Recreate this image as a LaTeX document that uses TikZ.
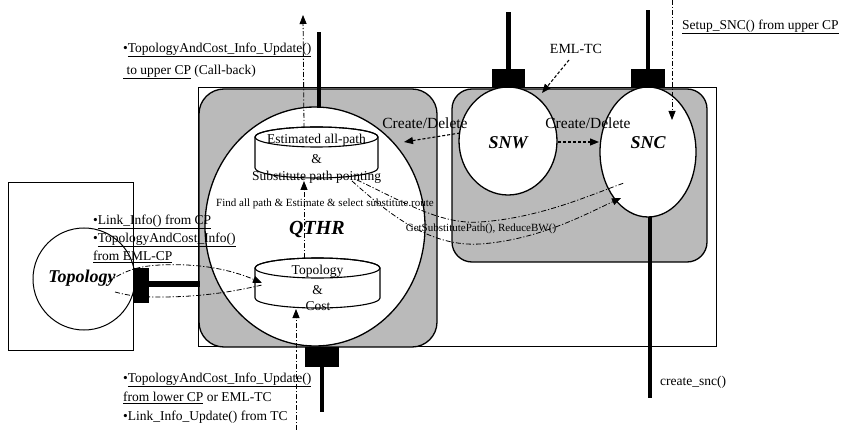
\documentclass[tikz,border=0pt]{standalone}
\usepackage{fontspec}
\setmainfont{Liberation Serif}
\usetikzlibrary{shapes.geometric,arrows.meta}
\begin{document}
\begin{tikzpicture}[x=1pt,y=-1pt,
  dd/.style={line width=0.8pt, dash pattern=on 5pt off 2pt on 1.2pt off 2pt},
  dsh/.style={line width=1.1pt, dash pattern=on 3pt off 2pt},
  tip/.style={-{Triangle[length=9pt,width=7pt]}},
  blk/.style={line width=4.5pt},
  port/.style={fill=black, draw=none, inner sep=0pt},
  bub/.style={ellipse, draw, line width=1.3pt, fill=white, inner sep=0pt},
  grayblock/.style={line width=1.3pt, fill=black!27},
  lbl/.style={inner sep=0pt, anchor=west, font=\fontsize{13.5}{15}\selectfont},
  cyl/.style={inner sep=0pt, font=\fontsize{13.5}{15}\selectfont},
  small/.style={inner sep=0pt, font=\fontsize{11}{12}\selectfont},
  big/.style={inner sep=0pt, font=\fontsize{18}{20}\selectfont\bfseries\itshape},
  cd/.style={inner sep=0pt, font=\fontsize{15.5}{17}\selectfont}]
\useasboundingbox (0,0) rectangle (842,430);

% frames
\draw[line width=1pt] (198,88) rectangle (716,346);
\draw[line width=1pt] (8,183) rectangle (133,350);
\draw[grayblock, rounded corners=25pt] (199,89) rectangle (437,347);
\draw[grayblock, rounded corners=20pt] (452,89) rectangle (707,262);

% bubbles
\node[bub, minimum width=220pt, minimum height=239pt] (qthr) at (315,226.5) {};
\node[bub, minimum width=98pt, minimum height=108pt] (snw) at (508,141) {};
\node[bub, minimum width=96pt, minimum height=130pt] (snc) at (648,152) {};
\node[ellipse, draw, line width=1pt, inner sep=0pt, minimum width=102pt, minimum height=102pt] (topo) at (84,279) {};

% cylinders
\draw[line width=1.1pt, fill=white] (255,137) -- (255,168)
  arc[start angle=180, end angle=0, x radius=61.5, y radius=10] -- (378,137)
  arc[start angle=0, end angle=-180, x radius=61.5, y radius=10] -- cycle;
\draw[line width=1.1pt] (316.5,137) ellipse[x radius=61.5, y radius=10];
\draw[line width=1.1pt, fill=white] (255,268) -- (255,298)
  arc[start angle=180, end angle=0, x radius=62.5, y radius=10] -- (380,268)
  arc[start angle=0, end angle=-180, x radius=62.5, y radius=10] -- cycle;
\draw[line width=1.1pt] (317.5,268) ellipse[x radius=62.5, y radius=10];
\coordinate (cyltop) at (304,128);
\coordinate (cyltopbot) at (304,181);
\coordinate (cylbottop) at (304,258);
\coordinate (cylbotbot) at (296,309);

% ports and black lines
\node[port, minimum width=33pt, minimum height=19pt] (snwport) at (508.5,78.5) {};
\node[port, minimum width=34pt, minimum height=19pt] (sncport) at (648,78.5) {};
\node[port, minimum width=34pt, minimum height=20pt] (qport) at (322,357) {};
\node[port, minimum width=16pt, minimum height=35pt] (tport) at (141,285.5) {};
\coordinate (snwend) at (508.5,12);
\coordinate (sncend) at (648,10);
\coordinate (qtopend) at (319,32);
\coordinate (qtopbase) at (319,108);
\coordinate (qbotend) at (322,412);
\coordinate (sncbot) at (650,217);
\coordinate (sncbotend) at (650,398);
\coordinate (qleft) at (200,284);
\draw[blk] (snwport.north) -- (snwend);
\draw[blk] (sncport.north) -- (sncend);
\draw[blk] (qtopbase) -- (qtopend);
\draw[blk] (qport.south) -- (qbotend);
\draw[blk] (sncbot) -- (sncbotend);
\draw[line width=6pt] (tport.east |- qleft) -- (qleft);

% dash-dot flows
\coordinate (upperend) at (303,15);
\coordinate (bottomstart) at (296,430);
\coordinate (setupstart) at (672,0);
\coordinate (setupend) at (672,120);
\draw[dd,tip] (cyltop) -- (upperend);
\draw[dd,tip] (cylbottop) -- (cyltopbot);
\draw[dd,tip] (bottomstart) -- (cylbotbot);
\draw[dd,tip] (setupstart) -- (setupend);

\coordinate (topoA) at (108,282);
\coordinate (topoB) at (115,292);
\coordinate (cylleft) at (262,283);
\coordinate (cylleftb) at (262,285);
\draw[dd,tip] (topoA) .. controls (125,270) and (140,266) .. (160,265)
  .. controls (200,263) and (232,270) .. (cylleft);
\draw[dd] (topoB) .. controls (130,296) and (140,297) .. (160,297)
  .. controls (200,297) and (232,292) .. (cylleftb);

\coordinate (subA) at (357,180);
\coordinate (subB) at (352,181);
\coordinate (sncA) at (624,183);
\coordinate (sncB) at (621,198);
\draw[dd] (subA) .. controls (400,200) and (440,225) .. (480,222)
  .. controls (540,218) and (590,195) .. (sncA);
\draw[dd,tip] (subB) .. controls (390,215) and (430,247) .. (480,244)
  .. controls (540,240) and (590,212) .. (sncB);

% dashed arrows
\coordinate (snwl) at (460,133);
\coordinate (qr) at (404,142);
\coordinate (snwr) at (558,142);
\coordinate (sncl) at (599,142);
\coordinate (emlA) at (569,60);
\coordinate (emlB) at (542,93);
\draw[dsh,tip] (snwl) -- (qr);
\draw[dsh,tip] (snwr) -- (sncl);
\draw[dsh,tip] (emlA) -- (emlB);

% bubble labels
\node[big] (tqthr) at (317,229) {\fontsize{20}{22}\selectfont QTHR};
\node[big] (tsnw) at (508,143) {SNW};
\node[big] (tsnc) at (648,143) {SNC};
\node[big] (ttopo) at (82,278) {Topology};

% cylinder labels
\node[cyl] (c1) at (316.5,140) {Estimated all-path};
\node[cyl] (c2) at (316.5,159) {\&};
\node[cyl] (c3) at (316.5,177) {Substitute path pointing};
\node[cyl] (c4) at (317.5,271) {Topology};
\node[cyl] (c5) at (317.5,290) {\&};
\node[cyl] (c6) at (318,306) {Cost};

% small labels
\node[small] (find) at (325,204) {Find all path \& Estimate \& select substitute route};
\node[small] (gsp) at (481,229) {GetSubstitutePath(), ReduceBW()};
\node[cd] (cd1) at (425,123) {Create/Delete};
\node[cd] (cd2) at (588,123) {Create/Delete};
\node[inner sep=0pt, font=\fontsize{14}{16}\selectfont] (eml) at (576,49) {EML-TC};

% side texts
\node[lbl] (u1) at (123,50) {•\underline{TopologyAndCost\_Info\_Update()}};
\node[lbl] (u2) at (123,72) {\underline{\ to upper CP}~(Call-back)};
\node[lbl] (l1) at (93,222) {•\underline{Link\_Info() from CP}};
\node[lbl] (l2) at (93,240) {•\underline{TopologyAndCost\_Info()}};
\node[lbl] (l3) at (93,257) {\underline{from EML-CP}};
\node[lbl] (b1) at (123,380) {•\underline{TopologyAndCost\_Info\_Update()}};
\node[lbl] (b2) at (123,398) {\underline{from lower CP}~or EML-TC};
\node[lbl] (b3) at (123,417) {•Link\_Info\_Update() from TC};
\node[lbl] (cs) at (660,382) {create\_snc()};
\node[lbl] (setup) at (682,27) {\underline{Setup\_SNC() from upper CP}};
\end{tikzpicture}
\end{document}
